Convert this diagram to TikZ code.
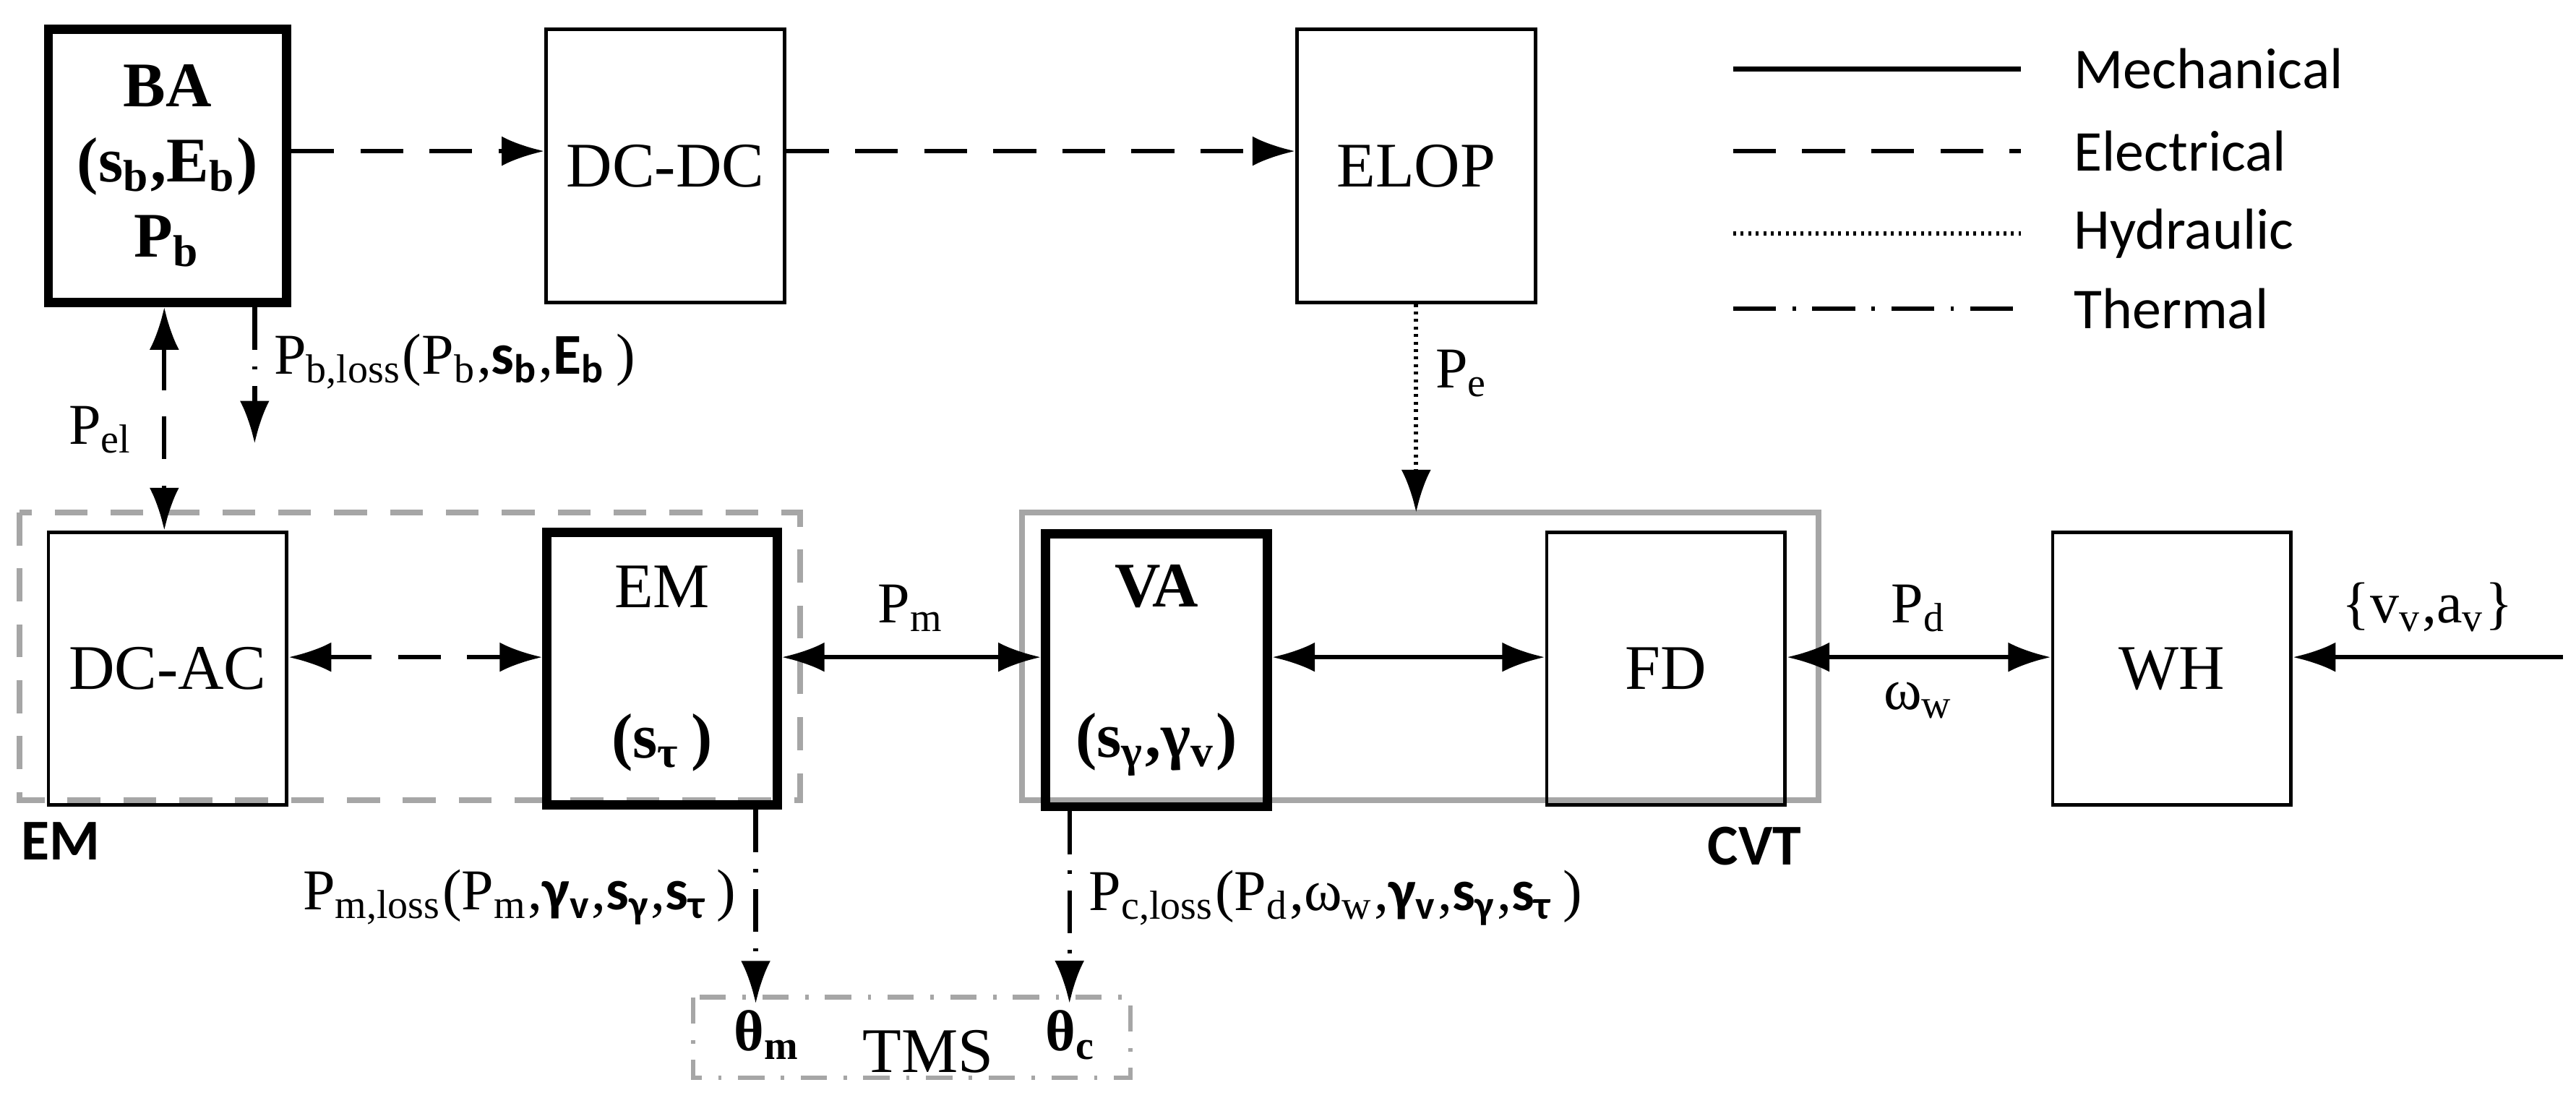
\documentclass[tikz,border=0pt]{standalone}
\usepackage{fontspec}
\setmainfont{Liberation Serif}
\setsansfont{Carlito}
\usetikzlibrary{arrows.meta,positioning,calc}
\tikzstyle{block} = [draw,line width=0.6pt,minimum width=1.45cm,minimum height=1.66cm,inner sep=0pt,font=\fontsize{11}{12}\selectfont]
\tikzstyle{mainblock} = [block,line width=1.6pt]
\tikzstyle{mechline} = [line width=0.8pt]
\tikzstyle{elecline} = [line width=0.8pt,dash pattern=on 2.6mm off 1.6mm]
\tikzstyle{hydrline} = [line width=0.8pt,dash pattern=on 0.5pt off 0.8pt]
\tikzstyle{thermline} = [line width=0.8pt,dash pattern=on 2.6mm off 1mm on 0.6pt off 1mm]
\tikzstyle{mech} = [mechline,{Latex[length=2.6mm,width=1.8mm]}-{Latex[length=2.6mm,width=1.8mm]}]
\tikzstyle{elec} = [elecline,-{Latex[length=2.6mm,width=1.8mm]}]
\tikzstyle{hydr} = [hydrline,-{Latex[length=2.6mm,width=1.8mm]}]
\tikzstyle{therm} = [thermline,-{Latex[length=2.6mm,width=1.8mm]}]
\tikzstyle{lbl} = [inner sep=1pt,font=\fontsize{10}{11}\selectfont]
\newcommand{\bs}[1]{\textsf{\textbf{#1}}}
\begin{document}
\begin{tikzpicture}[x=0.01cm,y=-0.01cm]
	\useasboundingbox (0,0) rectangle (1568,668);
		% groups
		\draw[gray!70,line width=1pt,dash pattern=on 2mm off 1.4mm] (12,312) rectangle (487,487);
		\node at (37,512) [font=\sffamily\bfseries\fontsize{10}{11}\selectfont]{EM};
		\draw[gray!70,line width=1pt] (622,312) rectangle (1107,487);
		\node at (1068,515) [font=\sffamily\bfseries\fontsize{10}{11}\selectfont]{CVT};
		\draw[gray!70,line width=0.8pt,dash pattern=on 1.6mm off 1mm on 0.6pt off 1mm] (422,607) rectangle (688,656);

		% blocks
		\node (ba)[mainblock,align=center] at (102,101) {\textbf{BA}\\[1pt]\textbf{(s\textsubscript{b},E\textsubscript{b})}\\[1pt]\textbf{P\textsubscript{b}}};
		\node (dcdc)[block] at (405,101) {DC-DC};
		\node (elop)[block] at (862,101) {ELOP};
		\node (dcac)[block] at (102,407) {DC-AC};
		\node (em)[mainblock,minimum width=1.4cm,align=center] at (403,407) {EM\\[14pt]\textbf{(s\textsubscript{τ}\,)}};
		\node (va)[mainblock,minimum width=1.35cm,align=center] at (704,408) {\textbf{VA}\\[14pt]\textbf{(s\textsubscript{γ},γ\textsubscript{v})}};
		\node (fd)[block] at (1014,407) {FD};
		\node (wh)[block] at (1322,407) {WH};
		\node (tms) at (565,640) [lbl,font=\fontsize{11}{12}\selectfont]{TMS};
		\node (thm) at (467,630) [lbl]{\textbf{θ\textsubscript{m}}};
		\node (thc) at (652,630) [lbl]{\textbf{θ\textsubscript{c}}};
		\coordinate (in) at (1560,400);

		% connectors
		\draw[elec] (ba.east |- 0,92) -- (dcdc.west |- 0,92);
		\draw[elec] (dcdc.east |- 0,92) -- (elop.west |- 0,92);
		\draw[hydr] (elop) -- (862,312) node[lbl,midway,right=2pt,yshift=6pt]{P\textsubscript{e}};
		\draw[elec,{Latex[length=2.6mm,width=1.8mm]}-{Latex[length=2.6mm,width=1.8mm]}] (ba.south -| 100,0) -- (dcac.north -| 100,0) node[lbl,pos=0.55,left=4pt]{P\textsubscript{el}};
		\draw[therm] (ba.south -| 155,0) -- (155,270) node[lbl,pos=0.4,right=2pt,anchor=west]{P\textsubscript{b,loss}(P\textsubscript{b},\bs{s\textsubscript{b}},\bs{E\textsubscript{b}}\,)};
		\draw[elec,{Latex[length=2.6mm,width=1.8mm]}-{Latex[length=2.6mm,width=1.8mm]}] (dcac.east |- 0,400) -- (em.west |- 0,400);
		\draw[mech] (em.east |- 0,400) -- (va.west |- 0,400) node[lbl,midway,above=3pt]{P\textsubscript{m}};
		\draw[mech] (va.east |- 0,400) -- (fd.west |- 0,400);
		\draw[mech] (fd.east |- 0,400) -- (wh.west |- 0,400) node[lbl,midway,above=3pt]{P\textsubscript{d}} node[lbl,midway,below=3pt]{ω\textsubscript{w}};
		\draw[mechline,-{Latex[length=2.6mm,width=1.8mm]}] (in) -- (wh.east |- in) node[lbl,midway,above=3pt]{\{v\textsubscript{v},a\textsubscript{v}\}};
		\draw[therm] (em.south -| 460,0) -- (thm.north -| 460,0) node[lbl,pos=0.45,left=2pt]{P\textsubscript{m,loss}(P\textsubscript{m},\bs{γ\textsubscript{v}},\bs{s\textsubscript{γ}},\bs{s\textsubscript{τ}}\,)};
		\draw[therm] (va.south -| 651,0) -- (thc.north -| 651,0) node[lbl,pos=0.45,right=2pt]{P\textsubscript{c,loss}(P\textsubscript{d},ω\textsubscript{w},\bs{γ\textsubscript{v}},\bs{s\textsubscript{γ}},\bs{s\textsubscript{τ}}\,)};

		% legend
		\foreach \y/\st/\txt in {42/mechline/Mechanical,92/elecline/Electrical,142/hydrline/Hydraulic,188/thermline/Thermal}{
			\draw[\st] (1055,\y) -- (1230,\y);
			\node[anchor=west,font=\sffamily\fontsize{10}{11}\selectfont] at (1250,\y) {\txt};
		}
	\end{tikzpicture}
\end{document}
